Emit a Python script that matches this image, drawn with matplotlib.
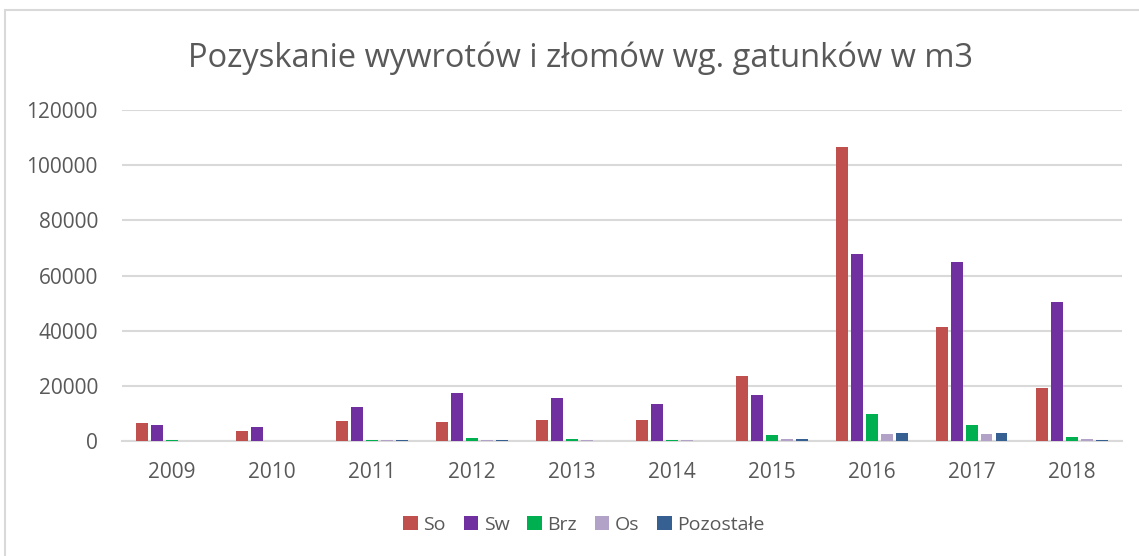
import numpy as np
import matplotlib.pyplot as plt
from matplotlib.patches import Rectangle

plt.rcParams['font.family'] = ['Open Sans', 'DejaVu Sans']

years = ["2009", "2010", "2011", "2012", "2013", "2014", "2015", "2016", "2017", "2018"]
so = [6700, 3600, 7150, 6800, 7500, 7500, 23500, 106500, 41450, 19300]
sw = [5950, 5200, 12200, 17550, 15600, 13550, 16550, 67900, 64800, 50300]
brz = [300, 150, 300, 1000, 700, 300, 2000, 9800, 5800, 1350]
os_ = [150, 50, 200, 300, 200, 200, 600, 2450, 2450, 650]
pozostale = [100, 50, 200, 300, 150, 150, 800, 2800, 2800, 500]

series = [("So", so, "#C0504D"),
          ("Sw", sw, "#7030A0"),
          ("Brz", brz, "#00B050"),
          ("Os", os_, "#B3A2C7"),
          ("Pozostałe", pozostale, "#376092")]

txt = "#595959"
grid = "#D9D9D9"

fig = plt.figure(figsize=(11.39, 5.56), dpi=100)
ax = fig.add_axes([121.5 / 1139, 115 / 556, 1000 / 1139, 331 / 556])

x = np.arange(len(years))
for k, (name, vals, col) in enumerate(series):
    ax.bar(x + (k - 2) * 0.15, vals, width=0.12, color=col, label=name, zorder=3)

ax.set_xlim(-0.5, len(years) - 0.5)
ax.set_ylim(0, 120000)
ax.set_yticks(range(0, 120001, 20000))
ax.set_xticks(x)
ax.set_xticklabels(years)
ax.tick_params(axis='both', length=0, labelsize=15, colors=txt)
ax.tick_params(axis='y', pad=17)
ax.tick_params(axis='x', pad=15)
ax.grid(axis='y', color=grid, linewidth=1.5, zorder=0)
for s in ["top", "right", "left"]:
    ax.spines[s].set_visible(False)
ax.spines["bottom"].set_color(grid)
ax.spines["bottom"].set_linewidth(1.5)

fig.text(580 / 1139, 1 - 58 / 556, "Pozyskanie wywrotów i złomów wg. gatunków w m3",
         ha='center', va='center', fontsize=23.5, color=txt)

fig.legend(loc='center', bbox_to_anchor=(584 / 1139, 1 - 525 / 556), ncol=5,
           frameon=False, fontsize=14, labelcolor=txt, handlelength=0.75,
           handleheight=0.75, handletextpad=0.3, columnspacing=0.9)

# chart frame
fig.patches.append(Rectangle((5 / 1139, -0.1), 1.2, 1 - 10 / 556 + 0.1,
                             transform=fig.transFigure, fill=False,
                             edgecolor=grid, linewidth=1.5))

fig.savefig("out.png", dpi=100)
